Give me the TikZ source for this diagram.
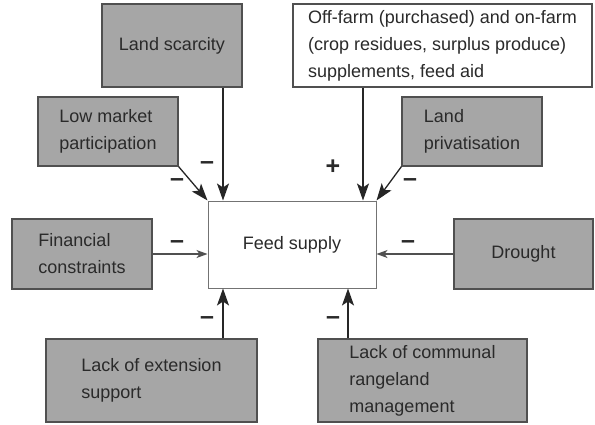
\documentclass[tikz,border=0pt]{standalone}
\usepackage{fontspec}
\setmainfont{Liberation Sans}
\usetikzlibrary{arrows.meta}
\definecolor{boxgray}{HTML}{A6A6A6}
\definecolor{edge}{HTML}{505050}
\definecolor{txt}{HTML}{2A2A2A}
\begin{document}
\begin{tikzpicture}[x=1pt,y=-1pt,
  box/.style={draw=edge, line width=1.2pt, fill=boxgray, inner sep=0pt, align=left,
    text=txt, font=\fontsize{18}{27}\selectfont},
  wbox/.style={box, fill=white},
  arr/.style={draw=black!85, line width=1.3pt, -{Stealth[length=17pt,width=12pt,inset=4pt]}},
  sarr/.style={draw=edge, line width=1.1pt, -{Stealth[length=11pt,width=8pt,inset=3pt]}},
  sign/.style={inner sep=0pt, text=txt, font=\fontsize{25}{27}\selectfont\bfseries}]
\useasboundingbox (0,0) rectangle (595,424);

\node[box, minimum width=140pt, minimum height=83pt] (scar) at (172,45.5) {Land scarcity};
\node[box, minimum width=140pt, minimum height=69pt] (low) at (108,131.5) {Low market\\participation};
\node[wbox, minimum width=299pt, minimum height=83pt] (off) at (442.5,45.5) {Off-farm (purchased) and on-farm\\(crop residues, surplus produce)\\supplements, feed aid};
\node[box, minimum width=140pt, minimum height=69pt] (priv) at (472,131.5) {Land\\privatisation};
\node[box, minimum width=140pt, minimum height=70pt] (fin) at (82,254) {Financial\\constraints};
\node[wbox, line width=1pt, draw=edge!80, minimum width=168pt, minimum height=87pt] (feed) at (292,244.5) {Feed supply};
\node[box, minimum width=139pt, minimum height=70pt] (dro) at (523.5,254) {Drought};
\node[box, minimum width=211pt, minimum height=83pt] (ext) at (151.5,380.5) {Lack of extension\\support};
\node[box, minimum width=209pt, minimum height=83pt] (com) at (422.5,380.5) {Lack of communal\\rangeland\\management};

\draw[arr] ([xshift=51pt]scar.south) coordinate (a1) -- (a1 |- feed.north);
\draw[arr] (low.south east) -- (feed.north west);
\draw[arr] ([xshift=-79.5pt]off.south) coordinate (a2) -- (a2 |- feed.north);
\draw[arr] (priv.south west) -- (feed.north east);
\draw[sarr] (fin.east) -- (feed.west |- fin.east);
\draw[sarr] (dro.west) -- (feed.east |- dro.west);
\draw[arr] ([xshift=71.5pt]ext.north) coordinate (a3) -- (a3 |- feed.south);
\draw[arr] ([xshift=-74.5pt]com.north) coordinate (a4) -- (a4 |- feed.south);

\node[sign] (s1) at (207,166) {–};
\node[sign] (s2) at (177,183) {–};
\node[sign] (s3) at (333,167) {+};
\node[sign] (s4) at (410,183) {–};
\node[sign] (s5) at (177,245) {–};
\node[sign] (s6) at (408,245) {–};
\node[sign] (s7) at (207,321) {–};
\node[sign] (s8) at (333,321) {–};
\end{tikzpicture}
\end{document}
